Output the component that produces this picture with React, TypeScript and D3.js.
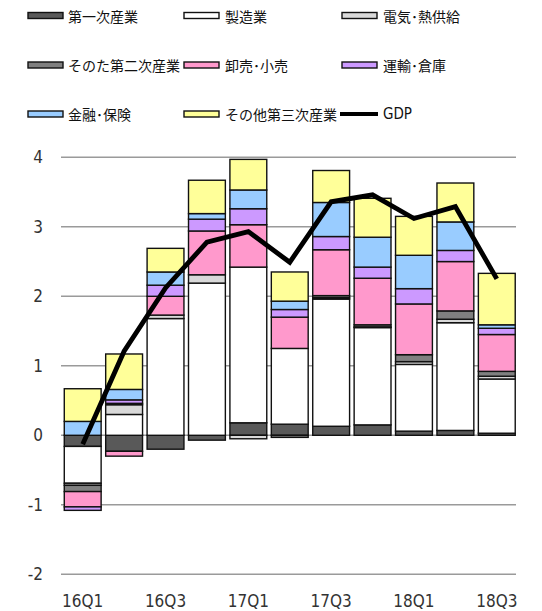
import React from 'react';
import * as d3 from 'd3';

const categories = ['16Q1','16Q2','16Q3','16Q4','17Q1','17Q2','17Q3','17Q4','18Q1','18Q2','18Q3'];
const primary = [-0.16, -0.23, -0.20, -0.07, 0.18, 0.16, 0.13, 0.15, 0.06, 0.07, 0.03];
const manufacturing = [-0.53, 0.30, 1.68, 2.19, 2.24, 1.09, 1.83, 1.40, 0.96, 1.55, 0.78];
const electricity = [-0.03, 0.14, 0.05, 0.12, -0.05, 0, 0.02, 0.01, 0.04, 0.05, 0.04];
const otherSecondary = [-0.09, 0.02, 0, 0, 0, -0.03, 0.03, 0.03, 0.10, 0.12, 0.07];
const wholesale = [-0.22, -0.07, 0.27, 0.63, 0.61, 0.45, 0.66, 0.67, 0.73, 0.71, 0.53];
const transport = [-0.05, 0.05, 0.16, 0.17, 0.23, 0.11, 0.19, 0.16, 0.22, 0.16, 0.09];
const finance = [0.20, 0.15, 0.19, 0.08, 0.27, 0.12, 0.49, 0.43, 0.48, 0.41, 0.05];
const otherTertiary = [0.47, 0.51, 0.34, 0.48, 0.44, 0.42, 0.46, 0.56, 0.56, 0.56, 0.74];
const gdp = [-0.13, 1.21, 2.12, 2.78, 2.93, 2.49, 3.36, 3.46, 3.12, 3.29, 2.25];

const seriesNames = ['第一次産業','製造業','電気･熱供給','そのた第二次産業','卸売･小売','運輸･倉庫','金融･保険','その他第三次産業'];
const seriesValues = [primary, manufacturing, electricity, otherSecondary, wholesale, transport, finance, otherTertiary];
const seriesColors = ['#595959','#ffffff','#d9d9d9','#808080','#ff99cc','#cc99ff','#99ccff','#ffff99'];
const yTicks = [-2, -1, 0, 1, 2, 3, 4];

export default function App() {
  const W = 542, H = 611;
  const x = d3.scaleBand<string>().domain(categories).range([62, 517.5]).paddingInner(0.11).paddingOuter(0.055);
  const y = d3.scaleLinear().domain([-2, 4]).range([574.3, 157.3]);

  const keys = seriesNames.map((_, i) => 's' + i);
  const table = categories.map((c, j) => {
    const row: any = { cat: c };
    seriesValues.forEach((arr, i) => { row['s' + i] = arr[j]; });
    return row;
  });
  const stacked = d3.stack<any>().keys(keys).offset(d3.stackOffsetDiverging)(table);

  const line = d3.line<number>()
    .x((_, i) => (x(categories[i]) as number) + x.bandwidth() / 2)
    .y(d => y(d));

  const legendCols = [28, 184, 342];
  const legendRows = [15.5, 65, 114];
  const legendItems = [...seriesNames.map((n, i) => ({ name: n, color: seriesColors[i], line: false })), { name: 'GDP', color: '#000', line: true }];

  const jp = '"Noto Sans CJK JP", "Noto Sans", sans-serif';
  const num = '"Liberation Sans Narrow", "DejaVu Sans Condensed", "Liberation Sans", sans-serif';

  return (
    <svg width={W} height={H} style={{ position: 'absolute', left: 0, top: 0, background: '#fff' }}>
      {yTicks.map(t => (
        <line key={'g' + t} x1={61} x2={516} y1={y(t)} y2={y(t)} stroke="#9a9a9a" strokeWidth={1.5} />
      ))}
      {yTicks.map(t => (
        <text key={'t' + t} x={43} y={y(t)} textAnchor="end" dominantBaseline="central" fontFamily={num} fontSize={17} fill="#333">{t}</text>
      ))}
      {categories.map((c, i) => i % 2 === 0 ? (
        <text key={'x' + c} x={(x(c) as number) + x.bandwidth() / 2} y={601} textAnchor="middle" dominantBaseline="central" fontFamily={num} fontSize={17} fill="#333">{c}</text>
      ) : null)}
      {stacked.map((s, si) => (
        <g key={s.key}>
          {s.map((d, j) => {
            const v = seriesValues[si][j];
            if (!v) return null;
            const y0 = y(d[0]), y1 = y(d[1]);
            return (
              <rect key={j} x={x(categories[j])} width={x.bandwidth()} y={Math.min(y0, y1)} height={Math.abs(y1 - y0)}
                fill={seriesColors[si]} stroke="#111" strokeWidth={1.4} />
            );
          })}
        </g>
      ))}
      <path d={line(gdp) || ''} fill="none" stroke="#000" strokeWidth={4.8} strokeLinejoin="miter" />
      {legendItems.map((it, k) => {
        const cx = legendCols[k % 3];
        const cy = legendRows[Math.floor(k / 3)];
        return (
          <g key={'l' + k}>
            {it.line ? (
              <line x1={cx - 2} x2={cx + 36} y1={cy} y2={cy} stroke="#000" strokeWidth={4} />
            ) : (
              <rect x={cx} y={cy - 3} width={35} height={6} fill={it.color} stroke="#111" strokeWidth={1.4} />
            )}
            <text x={cx + (k % 3 === 0 ? 40 : 41)} y={cy} dominantBaseline="central" fontFamily={it.line ? num : jp} fontSize={it.line ? 15 : 14} fill="#111">{it.name}</text>
          </g>
        );
      })}
    </svg>
  );
}
